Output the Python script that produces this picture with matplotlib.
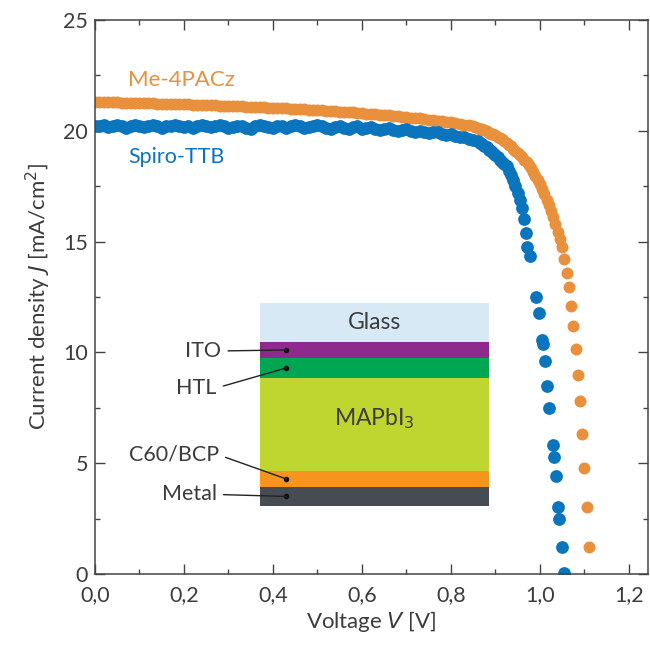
import numpy as np
import matplotlib.pyplot as plt
from matplotlib.ticker import MultipleLocator, FuncFormatter

plt.rcParams['font.family'] = ['Lato', 'DejaVu Sans']

# ---------------- data ----------------
# Me-4PACz, dense part (0.00 ... 0.85 V, 0.01 V steps)
me_v_flat = np.round(np.arange(0.0, 0.855, 0.01), 3)
me_j_flat = [21.30, 21.30, 21.29, 21.29, 21.28, 21.28, 21.27, 21.27, 21.26, 21.26,
             21.25, 21.25, 21.24, 21.24, 21.23, 21.23, 21.22, 21.21, 21.21, 21.20,
             21.20, 21.19, 21.18, 21.18, 21.17, 21.16, 21.16, 21.15, 21.14, 21.13,
             21.12, 21.12, 21.11, 21.10, 21.09, 21.08, 21.07, 21.06, 21.06, 21.05,
             21.04, 21.03, 21.02, 21.01, 21.00, 20.99, 20.98, 20.97, 20.96, 20.95,
             20.93, 20.92, 20.91, 20.90, 20.88, 20.87, 20.86, 20.84, 20.83, 20.81,
             20.80, 20.78, 20.77, 20.75, 20.73, 20.72, 20.70, 20.68, 20.66, 20.64,
             20.62, 20.60, 20.58, 20.56, 20.54, 20.51, 20.49, 20.46, 20.44, 20.41,
             20.38, 20.35, 20.32, 20.28, 20.25, 20.21]
# Me-4PACz, knee and drop (0.005 V steps)
me_v_tail = [0.855, 0.86, 0.865, 0.87, 0.875, 0.88, 0.885, 0.89, 0.895, 0.90,
             0.905, 0.91, 0.915, 0.92, 0.925, 0.93, 0.935, 0.94, 0.945, 0.95,
             0.955, 0.96, 0.965, 0.97, 0.975, 0.98, 0.985, 0.99, 0.995, 1.00,
             1.005, 1.01, 1.015, 1.02, 1.025, 1.03, 1.035, 1.04, 1.045, 1.05,
             1.055, 1.06, 1.065, 1.07, 1.075, 1.08, 1.085, 1.09, 1.095, 1.10,
             1.105, 1.11]
me_j_tail = [20.18, 20.14, 20.10, 20.06, 20.02, 19.97, 19.92, 19.87, 19.84, 19.80,
             19.74, 19.68, 19.61, 19.54, 19.46, 19.38, 19.30, 19.20, 19.10, 19.00,
             18.90, 18.80, 18.70, 18.58, 18.45, 18.30, 18.12, 17.95, 17.78, 17.60,
             17.38, 17.15, 16.90, 16.65, 16.38, 16.10, 15.80, 15.45, 15.10, 14.75,
             14.20, 13.60, 12.95, 12.10, 11.20, 10.15, 9.00, 7.80, 6.30, 4.80,
             3.00, 1.20]

# Spiro-TTB, noisy plateau (0.00 ... 0.85 V, 0.01 V steps)
sp_v_flat = np.round(np.arange(0.0, 0.855, 0.01), 3)
sp_j_flat = [20.22, 20.20, 20.26, 20.18, 20.20, 20.26, 20.22, 20.14, 20.20, 20.26,
             20.20, 20.16, 20.22, 20.26, 20.20, 20.14, 20.20, 20.22, 20.26, 20.20,
             20.16, 20.20, 20.14, 20.22, 20.26, 20.20, 20.16, 20.20, 20.26, 20.20,
             20.14, 20.16, 20.22, 20.20, 20.14, 20.10, 20.20, 20.26, 20.20, 20.16,
             20.14, 20.20, 20.22, 20.14, 20.20, 20.26, 20.20, 20.14, 20.16, 20.20,
             20.26, 20.20, 20.14, 20.10, 20.16, 20.20, 20.14, 20.06, 20.16, 20.20,
             20.08, 20.12, 20.18, 20.10, 20.04, 20.10, 20.14, 20.02, 19.98, 20.05,
             20.08, 19.98, 19.94, 20.00, 19.96, 19.92, 19.95, 19.94, 19.86, 19.82,
             19.84, 19.76, 19.72, 19.72, 19.64, 19.60]
# Spiro-TTB, knee and drop
sp_v_tail = [0.86, 0.865, 0.87, 0.875, 0.88, 0.885, 0.89, 0.895, 0.90, 0.905,
             0.91, 0.915, 0.92, 0.925, 0.93, 0.935, 0.94, 0.945, 0.95, 0.955,
             0.96, 0.965, 0.968, 0.971, 0.977, 0.991, 0.998, 1.004, 1.006, 1.011,
             1.016, 1.020, 1.029, 1.031, 1.036, 1.040, 1.043, 1.049, 1.054]
sp_j_tail = [19.55, 19.45, 19.40, 19.30, 19.25, 19.15, 19.10, 19.00, 18.90, 18.80,
             18.70, 18.60, 18.50, 18.40, 18.20, 18.00, 17.80, 17.50, 17.20, 16.90,
             16.50, 16.00, 15.40, 14.75, 14.35, 12.50, 11.80, 10.55, 10.40, 9.60,
             8.50, 7.50, 5.80, 5.30, 4.40, 3.00, 2.50, 1.20, 0.05]

me_v = np.concatenate([me_v_flat, me_v_tail])
me_j = np.concatenate([me_j_flat, me_j_tail])
sp_v = np.concatenate([sp_v_flat, sp_v_tail])
sp_j = np.concatenate([sp_j_flat, sp_j_tail])

# layer stack of the device sketch (top to bottom), relative thicknesses
layer_names = ['Glass', 'ITO', 'HTL', 'MAPbI3', 'C60/BCP', 'Metal']
layer_thick = [39, 16, 20, 93, 16, 19]
layer_colors = ['#d6e9f4', '#8e2a8e', '#00a651', '#bfd630', '#f7941d', '#474c52']

orange = '#e8903c'
blue = '#0a74bd'
txt = '#3c3c3c'

# ---------------- figure ----------------
fig = plt.figure(figsize=(6.5, 6.46), dpi=100)
ax = fig.add_axes([0.146, 0.1115, 0.851, 0.8575])

ax.plot(me_v, me_j, 'o', color=orange, markersize=8.6, markeredgewidth=0)
ax.plot(sp_v, sp_j, 'o', color=blue, markersize=9.2, markeredgewidth=0)

ax.set_xlim(0, 1.243)
ax.set_ylim(0, 25)
ax.xaxis.set_major_locator(MultipleLocator(0.2))
ax.xaxis.set_minor_locator(MultipleLocator(0.1))
ax.yaxis.set_major_locator(MultipleLocator(5))
ax.yaxis.set_minor_locator(MultipleLocator(2.5))
ax.xaxis.set_major_formatter(FuncFormatter(lambda v, p: f'{v:.1f}'.replace('.', ',')))
ax.yaxis.set_major_formatter(FuncFormatter(lambda v, p: f'{v:.0f}'))

ax.tick_params(which='both', direction='in', top=True, right=True,
               colors='#444444', labelcolor=txt, width=1.0, labelsize=15.5)
ax.tick_params(which='major', length=7)
ax.tick_params(which='minor', length=3.5)
ax.tick_params(axis='x', pad=8)
ax.tick_params(axis='y', pad=5)
for s in ax.spines.values():
    s.set_color('#444444')
    s.set_linewidth(1.1)

ax.set_xlabel('Voltage $\\it{V}$ [V]', fontsize=16, color=txt, labelpad=3)
ax.set_ylabel('Current density $\\it{J}$ [mA/cm$^2$]', fontsize=16, color=txt, labelpad=7)

ax.text(0.074, 22.3, 'Me-4PACz', color=orange, fontsize=16, va='center', ha='left')
ax.text(0.074, 18.8, 'Spiro-TTB', color=blue, fontsize=15.5, va='center', ha='left')

# ---------------- device sketch ----------------
ins = ax.inset_axes([0.371, 3.07, 0.514, 9.16], transform=ax.transData)
total = sum(layer_thick)
ins.set_xlim(0, 1)
ins.set_ylim(0, total)
ins.axis('off')
top = total
centers = {}
for name, th, col in zip(layer_names, layer_thick, layer_colors):
    ins.bar(0.5, th, width=1.0, bottom=top - th, color=col, linewidth=0)
    centers[name] = top - th / 2
    top -= th

ins.text(0.5, centers['Glass'], 'Glass', ha='center', va='center', fontsize=16.5, color=txt)
ins.text(0.5, centers['MAPbI3'] + 6, 'MAPbI$_3$', ha='center', va='center', fontsize=16.5, color=txt)

# labels with leader lines on the left
dot_x = 0.115
lab_pos = {'ITO': (-0.17, centers['ITO'] - 1),
           'HTL': (-0.19, centers['HTL'] - 20),
           'C60/BCP': (-0.18, centers['C60/BCP'] + 24),
           'Metal': (-0.19, centers['Metal'] + 2)}
for name in ['ITO', 'HTL', 'C60/BCP', 'Metal']:
    ins.annotate(name, xy=(dot_x, centers[name]), xytext=lab_pos[name],
                 ha='right', va='center', fontsize=15.5, color=txt,
                 annotation_clip=False,
                 arrowprops=dict(arrowstyle='-', color='#222222', lw=1.0,
                                 shrinkA=3, shrinkB=0, relpos=(1, 0.5)))
    ins.plot(dot_x, centers[name], 'o', color='#111111', markersize=3, clip_on=False)

fig.savefig('out.png', dpi=100)
